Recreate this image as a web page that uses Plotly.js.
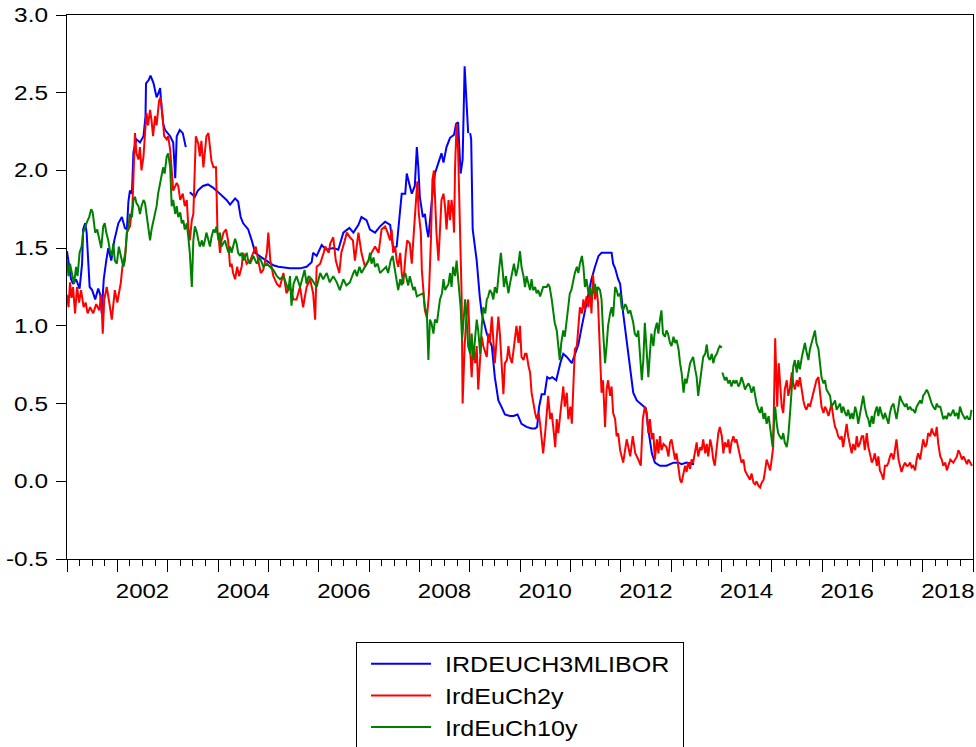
<!DOCTYPE html>
<html>
<head>
<meta charset="utf-8">
<script src="https://cdn.plot.ly/plotly-3.0.1.min.js"></script>
<style>
  html, body { margin: 0; padding: 0; background: #fff; }
  #chart { width: 976px; height: 747px; }
</style>
</head>
<body>
<div id="chart"></div>
<script>
// ---- Data (decimal years) ----
const seriesNames = ["IRDEUCH3MLIBOR", "IrdEuCh2y", "IrdEuCh10y"];

const blueT = [2001.00,2001.04,2001.08,2001.12,2001.18,2001.25,2001.30,2001.32,2001.36,2001.39,2001.42,2001.45,2001.50,2001.56,2001.62,2001.66,2001.69,2001.73,2001.78,2001.82,2001.88,2001.94,
2002.02,2002.09,2002.15,2002.19,2002.22,2002.25,2002.29,2002.32,2002.38,2002.45,2002.52,2002.56,2002.57,2002.62,2002.66,2002.72,2002.76,2002.78,2002.82,2002.85,2002.88,2002.91,2002.95,2002.98,
2003.05,2003.11,2003.15,2003.18,2003.24,2003.30,2003.36,2003.40,2003.44,2003.50,2003.54,2003.60,2003.70,2003.80,2003.90,2003.97,
2004.07,2004.17,2004.24,2004.30,2004.34,2004.40,2004.45,2004.50,2004.60,2004.67,2004.74,2004.82,2004.97,
2005.10,2005.20,2005.43,2005.63,2005.76,2005.86,2005.89,2005.96,
2006.06,2006.15,2006.29,2006.39,2006.49,2006.61,2006.69,2006.79,2006.85,2006.95,
2007.02,2007.12,2007.22,2007.32,2007.42,2007.48,2007.55,2007.62,2007.65,2007.72,2007.75,2007.78,2007.85,2007.91,2007.95,2007.98,
2008.01,2008.07,2008.11,2008.15,2008.18,2008.25,2008.31,2008.38,2008.44,2008.48,2008.54,2008.61,2008.69,2008.73,2008.77,2008.82,2008.86,2008.90,2008.94,2008.97,2008.99,
2009.01,2009.03,2009.06,2009.14,2009.20,2009.24,2009.34,2009.44,2009.50,2009.57,2009.63,2009.70,2009.80,2009.87,2009.95,
2010.03,2010.13,2010.23,2010.30,2010.34,2010.38,2010.43,2010.49,2010.54,2010.59,2010.64,2010.72,2010.80,2010.86,2010.93,
2011.03,2011.09,2011.16,2011.23,2011.29,2011.32,2011.42,2011.49,2011.56,2011.62,2011.82,2011.85,2011.89,2011.95,2011.99,
2012.05,2012.12,2012.19,2012.25,2012.32,2012.42,2012.50,2012.55,2012.62,2012.68,2012.78,2012.91,
2013.05,2013.15,2013.21,2013.31,2013.46];
const blueV = [1.48,1.40,1.30,1.27,1.30,1.24,1.40,1.62,1.66,1.60,1.40,1.25,1.23,1.17,1.24,1.20,1.08,1.30,1.42,1.50,1.42,1.55,
1.66,1.70,1.63,1.62,1.80,1.87,1.85,2.12,2.20,2.18,2.22,2.35,2.56,2.58,2.61,2.56,2.50,2.47,2.50,2.53,2.40,2.30,2.26,2.25,
2.22,2.18,1.95,2.22,2.26,2.24,2.15,null,1.86,1.84,1.83,1.87,1.90,1.91,1.89,1.87,
1.84,1.81,1.78,1.80,1.82,1.80,1.70,1.66,1.62,1.55,1.47,1.45,1.42,
1.39,1.38,1.37,1.37,1.38,1.41,1.47,1.45,
1.52,1.49,1.50,1.49,1.60,1.63,1.60,1.65,1.70,1.68,
1.62,1.60,1.64,1.67,1.65,1.50,1.51,1.75,1.85,1.85,1.98,1.94,1.85,1.90,2.15,2.02,
1.83,1.70,1.72,1.62,1.57,1.81,1.98,2.05,2.11,2.05,2.15,2.21,2.23,2.30,2.31,1.98,2.07,2.67,2.45,2.24,null,
2.24,2.20,1.62,1.42,1.19,1.08,0.95,0.87,0.67,0.52,0.48,0.43,0.42,0.42,0.43,
0.37,0.35,0.34,0.34,0.35,0.48,0.56,0.56,0.67,0.66,0.67,0.65,0.76,0.82,0.80,
0.76,0.81,0.88,1.00,1.10,1.15,1.30,1.38,1.45,1.47,1.47,1.40,1.37,1.30,1.27,
1.08,0.91,0.72,0.57,0.52,0.49,0.47,0.33,0.18,0.12,0.10,0.10,
0.12,0.12,0.11,0.12,0.11];

const redT = [2001.00,2001.03,2001.06,2001.09,2001.12,2001.16,2001.20,2001.24,2001.28,2001.33,2001.37,2001.41,2001.46,2001.52,2001.58,2001.64,2001.68,2001.71,2001.74,2001.79,2001.84,2001.89,2001.95,
2002.00,2002.07,2002.10,2002.16,2002.19,2002.25,2002.30,2002.35,2002.38,2002.42,2002.45,2002.48,2002.52,2002.55,2002.58,2002.61,2002.65,2002.68,2002.71,2002.75,2002.78,2002.83,2002.86,2002.90,2002.93,2002.98,
2003.01,2003.05,2003.08,2003.11,2003.18,2003.21,2003.25,2003.30,2003.34,2003.38,2003.41,2003.44,2003.48,2003.51,2003.56,2003.61,2003.64,2003.67,2003.71,2003.74,2003.77,2003.81,2003.84,2003.87,2003.91,2003.96,2003.99,
2004.01,2004.04,2004.07,2004.11,2004.16,2004.20,2004.24,2004.27,2004.30,2004.34,2004.38,2004.42,2004.47,2004.50,2004.57,2004.64,2004.70,2004.75,2004.80,2004.85,2004.90,2004.97,
2005.00,2005.04,2005.10,2005.17,2005.23,2005.30,2005.36,2005.43,2005.50,2005.56,2005.63,2005.69,2005.76,2005.83,2005.89,2005.93,2005.96,
2006.03,2006.10,2006.13,2006.20,2006.23,2006.29,2006.34,2006.41,2006.45,2006.52,2006.56,2006.62,2006.68,2006.72,2006.79,2006.85,2006.92,2006.99,
2007.05,2007.12,2007.19,2007.25,2007.32,2007.37,2007.42,2007.45,2007.48,2007.52,2007.55,2007.58,2007.62,2007.65,2007.68,2007.73,2007.76,2007.81,2007.85,2007.89,2007.93,2007.96,2007.99,
2008.03,2008.05,2008.08,2008.11,2008.15,2008.19,2008.23,2008.26,2008.29,2008.31,2008.34,2008.38,2008.41,2008.44,2008.48,2008.51,2008.54,2008.58,2008.61,2008.64,2008.67,2008.69,2008.71,2008.74,2008.77,2008.79,2008.82,2008.84,2008.86,2008.90,2008.94,2008.97,
2009.00,2009.04,2009.07,2009.11,2009.14,2009.17,2009.21,2009.24,2009.27,2009.34,2009.37,2009.40,2009.44,2009.47,2009.50,2009.54,2009.57,2009.60,2009.64,2009.67,2009.70,2009.74,2009.77,2009.80,2009.84,2009.87,2009.90,2009.93,2009.97,
2010.00,2010.03,2010.07,2010.10,2010.13,2010.17,2010.20,2010.23,2010.27,2010.30,2010.33,2010.37,2010.40,2010.43,2010.46,2010.50,2010.53,2010.56,2010.60,2010.63,2010.66,2010.70,2010.73,2010.76,2010.79,2010.83,2010.86,2010.89,2010.93,2010.96,
2011.00,2011.03,2011.06,2011.09,2011.13,2011.16,2011.19,2011.23,2011.26,2011.29,2011.32,2011.36,2011.39,2011.42,2011.45,2011.49,2011.52,2011.55,2011.59,2011.62,2011.65,2011.69,2011.72,2011.75,2011.79,2011.82,2011.85,2011.89,2011.92,2011.95,2011.99,
2012.05,2012.12,2012.19,2012.24,2012.29,2012.35,2012.40,2012.44,2012.48,2012.52,2012.55,2012.58,2012.62,2012.65,2012.68,2012.72,2012.75,2012.78,2012.81,2012.85,2012.91,2012.95,2012.98,
2013.01,2013.05,2013.08,2013.11,2013.15,2013.18,2013.21,2013.24,2013.28,2013.31,2013.34,2013.38,2013.41,2013.44,2013.48,2013.51,2013.54,2013.58,2013.61,2013.64,2013.68,2013.71,2013.74,2013.78,2013.81,2013.84,2013.87,2013.91,2013.94,2013.97,
2014.01,2014.04,2014.07,2014.11,2014.14,2014.17,2014.20,2014.24,2014.27,2014.30,2014.34,2014.37,2014.40,2014.44,2014.47,2014.50,2014.54,2014.57,2014.60,2014.64,2014.67,2014.70,2014.74,2014.77,2014.80,2014.84,2014.87,2014.90,2014.94,2014.97,
2015.00,2015.03,2015.07,2015.09,2015.11,2015.14,2015.17,2015.20,2015.23,2015.26,2015.30,2015.33,2015.36,2015.40,2015.43,2015.46,2015.50,2015.53,2015.56,2015.60,2015.63,2015.66,2015.69,2015.73,2015.76,2015.79,2015.83,2015.86,2015.89,2015.93,2015.96,2015.99,
2016.03,2016.06,2016.09,2016.13,2016.16,2016.19,2016.23,2016.26,2016.29,2016.32,2016.36,2016.39,2016.42,2016.46,2016.49,2016.52,2016.56,2016.59,2016.62,2016.66,2016.69,2016.72,2016.75,2016.79,2016.82,2016.85,2016.89,2016.92,2016.95,2016.99,
2017.02,2017.05,2017.09,2017.12,2017.15,2017.18,2017.22,2017.25,2017.29,2017.32,2017.35,2017.38,2017.42,2017.45,2017.48,2017.52,2017.55,2017.58,2017.62,2017.65,2017.68,2017.71,2017.75,2017.78,2017.81,2017.85,2017.88,2017.91,2017.95,2017.98,
2018.01,2018.05,2018.08,2018.11,2018.15,2018.18,2018.21,2018.25,2018.28,2018.31,2018.35,2018.38,2018.41,2018.45,2018.48,2018.51,2018.55,2018.61,2018.68,2018.71,2018.74,2018.78,2018.81,2018.84,2018.88,2018.91,2018.94,2018.98];
const redV = [1.20,1.12,1.28,1.18,1.25,1.08,1.25,1.15,1.23,1.12,1.15,1.08,1.12,1.08,1.14,1.10,1.20,0.95,1.17,1.25,1.15,1.04,1.23,
1.15,1.28,1.38,1.47,1.60,1.64,1.77,2.24,2.11,2.07,2.15,2.00,2.09,2.24,2.37,2.29,2.39,2.32,2.22,2.35,2.29,2.45,2.47,2.35,2.22,2.20,
2.22,2.13,1.96,1.87,1.92,1.90,1.81,1.85,1.77,1.81,1.64,1.55,1.68,1.72,2.22,2.17,2.09,2.19,2.02,2.13,2.22,2.24,2.15,2.06,2.02,2.02,1.60,
1.58,1.47,1.55,1.60,1.62,1.55,1.38,1.40,1.34,1.30,1.38,1.32,1.38,1.47,1.40,1.42,1.47,1.51,1.42,1.34,1.36,1.47,
1.60,1.42,1.32,1.27,1.25,1.34,1.21,1.25,1.17,1.17,1.25,1.12,1.25,1.30,1.21,1.04,1.38,
1.40,1.47,1.51,1.47,1.53,1.57,1.42,1.34,1.47,1.55,1.60,1.57,1.55,1.42,1.60,1.47,1.38,1.42,
1.47,1.51,1.47,1.62,1.64,1.60,1.55,1.62,1.47,1.51,1.42,1.38,1.47,1.34,1.27,1.47,1.55,1.53,1.40,1.60,1.81,1.93,1.72,
1.60,1.36,1.23,1.10,1.05,1.20,1.55,1.94,2.00,1.81,1.60,1.42,1.60,1.81,1.85,1.77,1.62,1.81,1.68,1.81,1.72,1.60,2.02,2.30,2.13,1.90,1.55,1.20,0.50,0.87,1.08,1.17,
0.91,0.67,0.87,0.76,0.87,0.59,0.80,0.93,0.87,0.80,0.95,0.89,1.06,0.87,0.76,0.93,1.06,0.95,0.74,0.56,0.76,0.78,0.87,0.80,0.76,0.85,0.93,1.00,0.89,
1.00,0.80,0.78,0.82,0.82,0.74,0.70,0.57,0.48,0.44,0.40,0.44,0.37,0.27,0.18,0.31,0.46,0.55,0.40,0.44,0.35,0.22,0.40,0.31,0.40,0.50,0.61,0.48,0.57,0.40,
0.48,0.37,0.65,0.85,0.87,1.00,1.12,1.08,1.17,1.10,1.19,1.12,1.25,1.08,1.33,1.17,1.25,1.15,0.76,0.57,0.65,0.35,0.59,0.65,0.55,0.61,0.44,0.40,0.29,0.31,0.20,
0.12,0.27,0.16,0.29,0.18,0.14,0.10,0.40,0.48,0.44,0.31,0.40,0.27,0.31,0.14,0.27,0.18,0.29,0.20,0.24,0.22,0.16,0.25,
0.27,0.20,0.14,0.18,0.10,0.01,-0.01,0.05,0.10,0.06,0.12,0.08,0.14,0.12,0.20,0.25,0.16,0.22,0.20,0.27,0.18,0.24,0.16,0.27,0.22,0.14,0.10,0.22,0.31,0.35,
0.29,0.18,0.25,0.22,0.27,0.18,0.25,0.29,0.25,0.27,0.20,0.16,0.12,0.14,0.07,0.05,0.03,0.01,0.05,-0.01,-0.02,0.00,-0.03,-0.04,-0.01,0.01,0.07,0.14,0.10,0.07,
0.14,0.22,0.92,0.65,0.48,0.76,0.61,0.48,0.44,0.59,0.65,0.55,0.59,0.70,0.63,0.59,0.65,0.61,0.67,0.57,0.52,0.48,0.46,0.50,0.48,0.52,0.57,0.61,0.65,0.67,0.57,0.48,
0.44,0.48,0.46,0.42,0.46,0.50,0.40,0.35,0.33,0.29,0.27,0.29,0.22,0.31,0.37,0.29,0.22,0.18,0.24,0.20,0.29,0.22,0.24,0.29,0.29,0.20,0.31,0.22,0.18,0.12,
0.14,0.18,0.10,0.16,0.07,0.05,0.01,0.10,0.10,0.12,0.16,0.18,0.14,0.20,0.27,0.14,0.10,0.06,0.10,0.12,0.10,0.10,0.12,0.09,0.10,0.07,0.14,0.18,0.14,0.22,
0.27,0.22,0.24,0.31,0.29,0.34,0.31,0.29,0.35,0.24,0.16,0.14,0.10,0.12,0.07,0.10,0.14,0.12,0.16,0.20,0.18,0.14,0.16,0.14,0.11,0.14,0.12,0.10];

const greenT = [2001.00,2001.03,2001.06,2001.09,2001.14,2001.18,2001.21,2001.25,2001.29,2001.32,2001.36,2001.40,2001.44,2001.48,2001.51,2001.56,2001.60,2001.64,2001.68,2001.72,2001.75,2001.78,2001.82,2001.85,2001.89,2001.92,2001.95,2001.99,
2002.03,2002.09,2002.12,2002.15,2002.19,2002.22,2002.25,2002.29,2002.32,2002.35,2002.38,2002.42,2002.45,2002.48,2002.52,2002.55,2002.58,2002.62,2002.65,2002.68,2002.72,2002.75,2002.78,2002.81,2002.85,2002.88,2002.91,2002.94,2002.98,
2003.01,2003.05,2003.08,2003.11,2003.15,2003.18,2003.21,2003.25,2003.28,2003.31,2003.34,2003.38,2003.41,2003.44,2003.48,2003.51,2003.54,2003.58,2003.61,2003.64,2003.68,2003.71,2003.74,2003.77,2003.81,2003.84,2003.87,2003.91,2003.94,2003.97,
2004.01,2004.04,2004.07,2004.10,2004.14,2004.17,2004.21,2004.24,2004.27,2004.30,2004.34,2004.37,2004.40,2004.44,2004.47,2004.50,2004.54,2004.57,2004.60,2004.64,2004.70,2004.77,2004.83,2004.90,2004.97,
2005.03,2005.10,2005.17,2005.23,2005.30,2005.35,2005.40,2005.43,2005.46,2005.50,2005.56,2005.63,2005.69,2005.72,2005.76,2005.80,2005.86,2005.96,
2006.03,2006.09,2006.16,2006.22,2006.29,2006.36,2006.42,2006.49,2006.55,2006.62,2006.69,2006.72,2006.76,2006.81,2006.85,2006.92,2006.99,
2007.02,2007.05,2007.09,2007.12,2007.17,2007.22,2007.28,2007.34,2007.38,2007.43,2007.47,2007.52,2007.55,2007.58,2007.62,2007.65,2007.68,2007.72,2007.75,2007.78,2007.81,2007.88,2007.91,2007.95,
2008.08,2008.11,2008.15,2008.18,2008.21,2008.24,2008.28,2008.31,2008.35,2008.38,2008.41,2008.45,2008.48,2008.51,2008.58,2008.61,2008.64,2008.67,2008.71,2008.74,2008.77,2008.80,2008.82,2008.85,2008.87,2008.91,2008.94,2008.97,
2009.01,2009.04,2009.07,2009.11,2009.14,2009.17,2009.21,2009.24,2009.27,2009.31,2009.34,2009.37,2009.40,2009.44,2009.47,2009.50,2009.54,2009.59,2009.62,2009.66,2009.68,2009.72,2009.77,2009.80,2009.84,2009.88,2009.92,2009.96,
2010.00,2010.03,2010.07,2010.10,2010.13,2010.17,2010.20,2010.23,2010.26,2010.30,2010.33,2010.36,2010.40,2010.46,2010.53,2010.56,2010.59,2010.63,2010.66,2010.69,2010.73,2010.76,2010.79,2010.82,2010.86,2010.89,2010.93,2010.96,2010.99,
2011.02,2011.06,2011.09,2011.13,2011.16,2011.19,2011.23,2011.26,2011.29,2011.32,2011.36,2011.39,2011.42,2011.46,2011.49,2011.52,2011.55,2011.59,2011.62,2011.65,2011.69,2011.72,2011.75,2011.79,2011.82,2011.85,2011.89,2011.92,2011.95,2011.99,
2012.02,2012.05,2012.09,2012.12,2012.15,2012.19,2012.22,2012.25,2012.28,2012.32,2012.35,2012.38,2012.42,2012.45,2012.48,2012.51,2012.55,2012.58,2012.61,2012.65,2012.68,2012.72,2012.75,2012.78,2012.81,2012.84,2012.88,2012.91,2012.94,2012.98,
2013.01,2013.05,2013.08,2013.11,2013.15,2013.18,2013.21,2013.25,2013.28,2013.31,2013.34,2013.38,2013.41,2013.44,2013.48,2013.51,2013.54,2013.58,2013.61,2013.64,2013.68,2013.71,2013.74,2013.77,2013.81,2013.84,2013.87,2013.91,2013.94,2013.97,
2014.01,2014.015,2014.02,2014.07,2014.10,2014.14,2014.17,2014.20,2014.24,2014.27,2014.30,2014.34,2014.37,2014.40,2014.44,2014.47,2014.50,2014.54,2014.57,2014.60,2014.64,2014.67,2014.70,2014.74,2014.77,2014.80,2014.84,2014.87,2014.90,2014.94,2014.97,
2015.00,2015.02,2015.05,2015.07,2015.10,2015.13,2015.16,2015.20,2015.23,2015.26,2015.30,2015.33,2015.37,2015.40,2015.43,2015.46,2015.50,2015.53,2015.56,2015.60,2015.63,2015.66,2015.70,2015.73,2015.76,2015.79,2015.83,2015.86,2015.89,2015.93,2015.96,2015.99,
2016.03,2016.06,2016.09,2016.13,2016.16,2016.19,2016.23,2016.26,2016.29,2016.33,2016.36,2016.39,2016.42,2016.46,2016.49,2016.52,2016.56,2016.59,2016.62,2016.66,2016.69,2016.72,2016.75,2016.79,2016.82,2016.85,2016.89,2016.92,2016.95,2016.99,
2017.02,2017.05,2017.09,2017.12,2017.15,2017.18,2017.22,2017.25,2017.29,2017.32,2017.35,2017.38,2017.42,2017.45,2017.48,2017.52,2017.55,2017.58,2017.62,2017.65,2017.68,2017.71,2017.75,2017.78,2017.81,2017.85,2017.88,2017.91,2017.95,2017.98,
2018.01,2018.05,2018.08,2018.11,2018.15,2018.18,2018.21,2018.25,2018.28,2018.31,2018.35,2018.38,2018.41,2018.45,2018.48,2018.51,2018.55,2018.58,2018.61,2018.64,2018.68,2018.71,2018.74,2018.78,2018.81,2018.84,2018.88,2018.91,2018.94,2018.97];
const greenV = [1.42,1.32,1.40,1.34,1.27,1.38,1.32,1.47,1.51,1.60,1.64,1.67,1.70,1.75,1.73,1.60,1.62,1.55,1.50,1.64,1.66,1.60,1.55,1.49,1.45,1.53,1.42,1.40,
1.51,1.42,1.38,1.42,1.60,1.64,1.72,1.70,1.81,1.83,1.79,1.77,1.72,1.77,1.81,1.79,1.72,1.62,1.55,1.62,1.68,1.72,1.77,1.85,1.92,1.96,2.02,1.98,2.09,
2.11,2.02,1.77,1.81,1.72,1.77,1.70,1.73,1.66,1.68,1.62,1.66,1.57,1.47,1.25,1.55,1.64,1.60,1.55,1.51,1.55,1.51,1.55,1.60,1.55,1.51,1.57,1.62,1.60,1.64,
1.55,1.60,1.51,1.53,1.55,1.51,1.47,1.51,1.47,1.51,1.56,1.53,1.47,1.45,1.47,1.42,1.45,1.47,1.42,1.40,1.45,1.40,1.44,1.38,1.40,
1.38,1.36,1.32,1.30,1.32,1.28,1.23,1.32,1.13,1.27,1.32,1.25,1.32,1.36,1.27,1.32,1.30,1.25,
1.34,1.30,1.34,1.28,1.32,1.28,1.23,1.30,1.26,1.28,1.34,1.36,1.32,1.38,1.34,1.38,1.42,
1.47,1.40,1.44,1.38,1.40,1.34,1.36,1.38,1.34,1.42,1.45,1.34,1.27,1.23,1.30,1.26,1.32,1.34,1.30,1.26,1.32,1.23,1.25,1.19,
1.21,1.12,1.08,0.78,1.04,1.02,0.95,1.04,1.02,1.08,1.17,1.21,1.30,1.23,1.27,1.34,1.25,1.38,1.32,1.42,1.32,1.21,1.12,0.91,1.02,1.17,1.04,0.87,
0.82,0.95,0.78,0.91,1.04,0.97,0.82,1.00,1.12,1.08,1.17,1.19,1.23,1.21,1.17,1.25,1.21,1.38,1.47,1.34,1.25,1.32,1.21,1.27,1.34,1.40,1.32,1.38,
1.48,1.38,1.32,1.25,1.32,1.27,1.23,1.30,1.23,1.25,1.21,1.23,1.19,1.25,1.25,1.27,1.25,1.17,1.08,1.02,0.97,0.87,0.78,0.89,0.97,0.93,1.06,1.12,1.21,
1.23,1.30,1.34,1.38,1.34,1.40,1.45,1.38,1.25,1.30,1.21,1.25,1.19,1.23,1.27,1.21,1.25,1.23,1.17,0.97,0.76,0.87,1.00,1.08,1.12,1.06,1.25,1.23,1.19,1.21,
1.12,1.10,1.14,1.12,1.08,1.10,1.06,1.02,0.95,0.93,0.97,0.84,0.65,0.78,1.02,0.87,0.67,0.82,0.95,0.87,0.97,1.02,0.95,1.04,1.10,0.95,0.93,0.97,0.95,0.89,
0.87,0.93,0.89,0.91,0.85,0.76,0.70,0.57,0.66,0.63,0.70,0.76,0.78,0.80,0.72,0.67,0.55,0.65,0.76,0.80,0.82,0.88,0.80,0.78,0.82,0.76,0.80,0.82,0.85,0.87,
0.86,null,0.70,0.65,0.67,0.63,0.65,0.61,0.65,0.63,0.65,0.61,0.63,0.67,0.63,0.59,0.61,0.63,0.61,0.57,0.61,0.55,0.50,0.46,0.44,0.48,0.40,0.44,0.37,0.42,0.35,
0.29,0.22,0.40,0.48,0.37,0.31,0.29,0.27,0.31,0.25,0.22,0.29,0.46,0.59,0.74,0.78,0.70,0.78,0.72,0.80,0.85,0.89,0.82,0.78,0.85,0.89,0.93,0.97,0.89,0.85,0.76,0.67,
0.63,0.65,0.59,0.57,0.55,0.48,0.50,0.52,0.46,0.48,0.50,0.44,0.48,0.44,0.42,0.46,0.40,0.44,0.40,0.48,0.44,0.37,0.42,0.48,0.55,0.48,0.42,0.40,0.35,0.42,
0.37,0.44,0.48,0.42,0.48,0.44,0.40,0.44,0.40,0.37,0.44,0.48,0.50,0.44,0.40,0.48,0.55,0.52,0.50,0.48,0.50,0.46,0.48,0.46,0.46,0.44,0.48,0.50,0.52,0.50,
0.55,0.57,0.59,0.57,0.52,0.50,0.48,0.46,0.50,0.48,0.48,0.44,0.40,0.42,0.40,0.44,0.42,0.44,0.46,0.42,0.44,0.40,0.48,0.44,0.42,0.40,0.42,0.40,0.40,0.46];

const yTickVals = [-0.5, 0.0, 0.5, 1.0, 1.5, 2.0, 2.5, 3.0];
const yTickText = ["-0.5", "0.0", "0.5", "1.0", "1.5", "2.0", "2.5", "3.0"];
const xLabelYears = [2002, 2004, 2006, 2008, 2010, 2012, 2014, 2016, 2018];

// ---- Chart ----
const colors = ["#0000FF", "#FF0000", "#008000"];
const FONT = "Liberation Sans, Arial, sans-serif";

const traces = [
  { x: blueT, y: blueV, name: seriesNames[0], mode: "lines", line: { color: colors[0], width: 2 }, connectgaps: false, hoverinfo: "skip" },
  { x: redT, y: redV, name: seriesNames[1], mode: "lines", line: { color: colors[1], width: 2 }, connectgaps: false, hoverinfo: "skip" },
  { x: greenT, y: greenV, name: seriesNames[2], mode: "lines", line: { color: colors[2], width: 2 }, connectgaps: false, hoverinfo: "skip" },
  // empty carrier trace so the label axis (x2) is drawn
  { x: [], y: [], xaxis: "x2", yaxis: "y", mode: "lines", showlegend: false, hoverinfo: "skip" }
];

const layout = {
  width: 976, height: 747,
  paper_bgcolor: "#ffffff", plot_bgcolor: "#ffffff",
  margin: { l: 67, r: 3, t: 15, b: 188, autoexpand: false },
  font: { family: FONT, size: 20, color: "#000" },
  showlegend: true,
  legend: {
    x: 0.319, xanchor: "left", y: -0.1526, yanchor: "top",
    bordercolor: "#000", borderwidth: 1, bgcolor: "#fff",
    font: { family: FONT, size: 22, color: "#000" },
    itemwidth: 78, tracegroupgap: 0
  },
  xaxis: {
    range: [2001, 2019], type: "linear",
    tickmode: "linear", tick0: 2001, dtick: 1,
    ticks: "outside", ticklen: 12, tickwidth: 1, tickcolor: "#000",
    showticklabels: false,
    minor: { tick0: 2001, dtick: 0.25, ticks: "outside", ticklen: 6, tickwidth: 1, tickcolor: "#000", showgrid: false },
    showline: true, linecolor: "#000", linewidth: 1, mirror: true,
    showgrid: false, zeroline: false, fixedrange: true
  },
  xaxis2: {
    overlaying: "x", anchor: "y", side: "bottom",
    range: [2001, 2019], type: "linear",
    tickmode: "array", tickvals: xLabelYears.map(v => v + 0.5), ticktext: xLabelYears.map(String),
    ticks: "", showline: false, showgrid: false, zeroline: false,
    tickfont: { family: FONT, size: 20, color: "#000" },
    ticklabelstandoff: 18, fixedrange: true
  },
  yaxis: {
    range: [-0.5, 3.0],
    tickmode: "array", tickvals: yTickVals, ticktext: yTickText,
    ticks: "outside", ticklen: 10, tickwidth: 1, tickcolor: "#000",
    tickfont: { family: FONT, size: 20, color: "#000" },
    ticklabelstandoff: 4,
    showline: true, linecolor: "#000", linewidth: 1, mirror: true,
    showgrid: false, zeroline: false, fixedrange: true
  }
};

const gd = document.getElementById("chart");
Plotly.newPlot(gd, traces, layout, { staticPlot: true, displayModeBar: false }).then(function () {
  function stretch(nodes, f) {
    let extra = 0;
    nodes.forEach(function (t) {
      const w = t.getComputedTextLength();
      if (w > 0) {
        t.setAttribute("textLength", (w * f).toFixed(2));
        t.setAttribute("lengthAdjust", "spacingAndGlyphs");
        extra = Math.max(extra, w * (f - 1));
      }
    });
    return extra;
  }
  stretch(gd.querySelectorAll("g.ytick text"), 1.22);
  stretch(gd.querySelectorAll("g.x2tick text"), 1.2);
  const extra = stretch(gd.querySelectorAll("text.legendtext"), 1.14);
  const grow = extra + 8;
  const bg = gd.querySelector(".legend rect.bg");
  if (bg) bg.setAttribute("width", (parseFloat(bg.getAttribute("width")) + grow).toFixed(1));
  gd.querySelectorAll("clipPath[id^='legend'] rect").forEach(function (r) {
    r.setAttribute("width", (parseFloat(r.getAttribute("width")) + grow).toFixed(1));
  });
  // legend swatch: 60px line starting a little inside the box, as in the reference
  gd.querySelectorAll(".legend .legendlines path").forEach(function (p) {
    p.setAttribute("d", "M14,0h60");
  });
});
</script>
</body>
</html>
